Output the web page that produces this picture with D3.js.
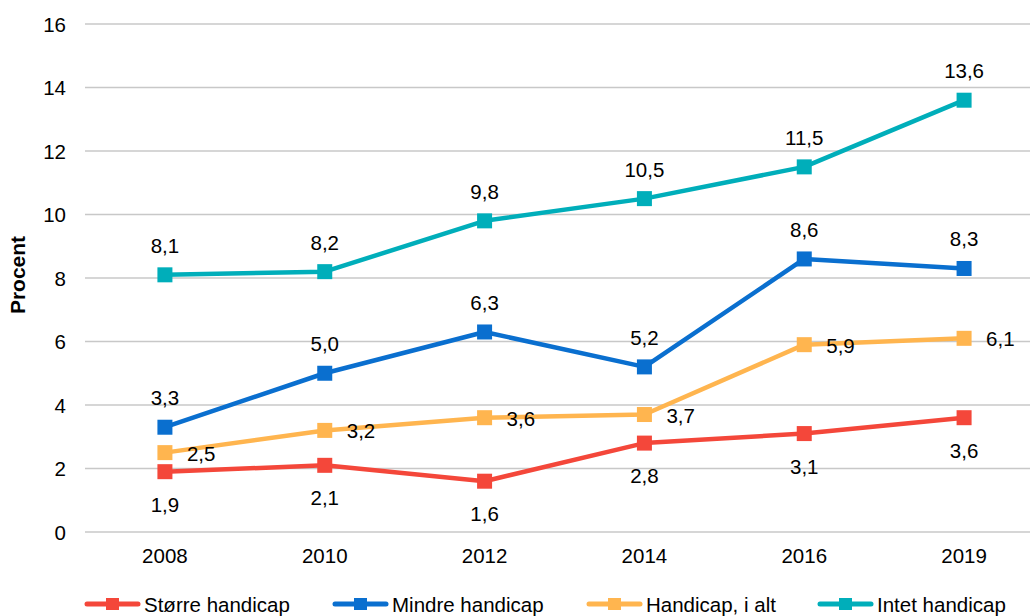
<!DOCTYPE html>
<html>
<head>
<meta charset="utf-8">
<script src="https://cdn.jsdelivr.net/npm/d3@7"></script>
<style>
  body { margin: 0; background: #fff; }
  text { font-family: "Liberation Sans", Arial, sans-serif; fill: #000; }
</style>
</head>
<body>
<div id="chart"></div>
<script>
const years = ["2008", "2010", "2012", "2014", "2016", "2019"];
const stoerre = [1.9, 2.1, 1.6, 2.8, 3.1, 3.6];
const mindre = [3.3, 5.0, 6.3, 5.2, 8.6, 8.3];
const iAlt = [2.5, 3.2, 3.6, 3.7, 5.9, 6.1];
const intet = [8.1, 8.2, 9.8, 10.5, 11.5, 13.6];
const yTicks = [0, 2, 4, 6, 8, 10, 12, 14, 16];

const series = [
  { name: "Større handicap", values: stoerre, color: "#f4473a", label: "below" },
  { name: "Mindre handicap", values: mindre, color: "#0a6fcf", label: "above" },
  { name: "Handicap, i alt", values: iAlt, color: "#ffb54f", label: "right" },
  { name: "Intet handicap", values: intet, color: "#00aeba", label: "above" },
];

const W = 1030, H = 616;
const margin = { top: 24, right: -14, bottom: 84, left: 85 };
const fs = "20.5px";

const svg = d3.select("#chart").append("svg")
  .attr("width", W).attr("height", H);

const x = d3.scaleBand().domain(years)
  .range([margin.left, W - margin.right]);
const y = d3.scaleLinear().domain([0, 16])
  .range([H - margin.bottom, margin.top]);
const cx = (d) => x(d) + x.bandwidth() / 2;

// gridlines
svg.append("g").selectAll("line").data(yTicks).enter().append("line")
  .attr("x1", margin.left).attr("x2", W - margin.right)
  .attr("y1", (d) => y(d)).attr("y2", (d) => y(d))
  .attr("stroke", "#c8c8c8").attr("stroke-width", 1.5);

// y tick labels
svg.append("g").selectAll("text").data(yTicks).enter().append("text")
  .attr("x", 66).attr("y", (d) => y(d) + 7.5)
  .attr("text-anchor", "end").style("font-size", fs)
  .text((d) => d);

// x tick labels
svg.append("g").selectAll("text").data(years).enter().append("text")
  .attr("x", (d) => cx(d)).attr("y", y(0) + 31)
  .attr("text-anchor", "middle").style("font-size", fs)
  .text((d) => d);

// y title
svg.append("text")
  .attr("transform", `translate(25, 275) rotate(-90)`)
  .attr("text-anchor", "middle")
  .style("font-size", "21px").style("font-weight", "bold")
  .text("Procent");

const line = d3.line()
  .x((d, i) => cx(years[i]))
  .y((d) => y(d));

const fmt = (v) => v.toFixed(1).replace(".", ",");

series.forEach((s) => {
  const g = svg.append("g");
  g.append("path").datum(s.values)
    .attr("d", line).attr("fill", "none")
    .attr("stroke", s.color).attr("stroke-width", 4.5)
    .attr("stroke-linejoin", "round");
  g.selectAll("rect").data(s.values).enter().append("rect")
    .attr("x", (d, i) => cx(years[i]) - 7.5)
    .attr("y", (d) => y(d) - 7.5)
    .attr("width", 15).attr("height", 15)
    .attr("fill", s.color);
  g.selectAll("text").data(s.values).enter().append("text")
    .attr("x", (d, i) => cx(years[i]) + (s.label === "right" ? 22 : 0))
    .attr("y", (d) => {
      if (s.label === "above") return y(d) - 22;
      if (s.label === "below") return y(d) + 40;
      return y(d) + 8;
    })
    .attr("text-anchor", s.label === "right" ? "start" : "middle")
    .style("font-size", fs)
    .text((d) => fmt(d));
});

// legend
const legendX = [85, 333, 587, 818];
const legend = svg.append("g").selectAll("g").data(series).enter().append("g")
  .attr("transform", (d, i) => `translate(${legendX[i]}, 604)`);
legend.append("line")
  .attr("x1", 2).attr("x2", 53).attr("y1", 0).attr("y2", 0)
  .attr("stroke", (d) => d.color).attr("stroke-width", 5)
  .attr("stroke-linecap", "round");
legend.append("rect")
  .attr("x", 21).attr("y", -6).attr("width", 13).attr("height", 12)
  .attr("fill", (d) => d.color);
legend.append("text")
  .attr("x", 59).attr("y", 8)
  .style("font-size", fs)
  .text((d) => d.name);
</script>
</body>
</html>
